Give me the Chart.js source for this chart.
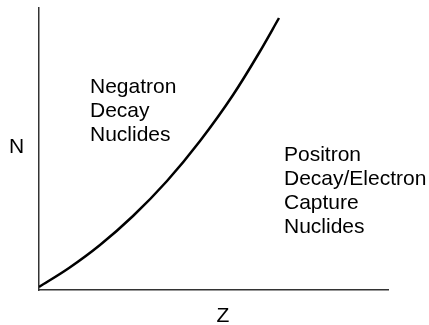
<!DOCTYPE html>
<html>
<head>
<meta charset="utf-8">
<script src="https://cdn.jsdelivr.net/npm/chart.js@4"></script>
<style>
  html, body { margin: 0; padding: 0; background: #fff; }
</style>
</head>
<body>
<canvas id="myChart" width="429" height="325"></canvas>
<script>
// curve (Z across, N up), arbitrary units
const zValues = [0, 30, 61, 94, 128, 161, 194, 220, 240];
const nValues = [3, 22, 45, 74, 109, 149, 195, 237, 272];

// axis ranges
const zMax = 349;
const nMax = 282;

// region labels and where they sit (data units, left edge / first baseline)
const negatronLines = ['Negatron', 'Decay', 'Nuclides'];
const positronLines = ['Positron', 'Decay/Electron', 'Capture', 'Nuclides'];
const labelZ = [51, 245];
const labelN = [197, 129];
const axisNames = ['Z', 'N'];

const textFont = '21px "Liberation Sans", Arial, Helvetica, sans-serif';

// draws the region text and the upright axis letters
const labelPlugin = {
	id: 'labels',
	afterDraw(chart) {
		const ctx = chart.ctx;
		const xs = chart.scales.x;
		const ys = chart.scales.y;
		const area = chart.chartArea;
		ctx.save();
		ctx.fillStyle = '#000';
		ctx.font = textFont;
		ctx.textAlign = 'left';
		ctx.textBaseline = 'alphabetic';
		[negatronLines, positronLines].forEach(function (lines, i) {
			const x = xs.getPixelForValue(labelZ[i]);
			const y = ys.getPixelForValue(labelN[i]);
			lines.forEach(function (t, j) {
				ctx.fillText(t, x, y + j * 24);
			});
		});
		// axis letters
		ctx.textAlign = 'center';
		ctx.fillText(axisNames[0], (area.left + area.right) / 2 + 9.5, area.bottom + 31.5);
		ctx.fillText(axisNames[1], area.left - 22.5, (area.top + area.bottom) / 2 + 4);
		ctx.restore();
	}
};

const data = {
	datasets: [{
		data: zValues.map(function (z, i) { return { x: z, y: nValues[i] }; }),
		showLine: true,
		borderColor: '#000',
		borderWidth: 2.5,
		pointRadius: 0,
		cubicInterpolationMode: 'monotone',
		fill: false
	}]
};

const config = {
	type: 'scatter',
	data,
	options: {
		responsive: false,
		animation: false,
		layout: {
			padding: { left: 39, top: 8, right: 41, bottom: 35 }
		},
		plugins: {
			legend: { display: false },
			tooltip: { enabled: false }
		},
		scales: {
			x: {
				type: 'linear',
				min: 0,
				max: zMax,
				grid: { display: false, drawTicks: false },
				ticks: { display: false },
				border: { color: '#333', width: 1.5 }
			},
			y: {
				type: 'linear',
				min: 0,
				max: nMax,
				grid: { display: false, drawTicks: false },
				ticks: { display: false },
				border: { color: '#333', width: 1.5 }
			}
		}
	},
	plugins: [labelPlugin]
};

const myChart = new Chart(document.getElementById('myChart'), config);
</script>
</body>
</html>
